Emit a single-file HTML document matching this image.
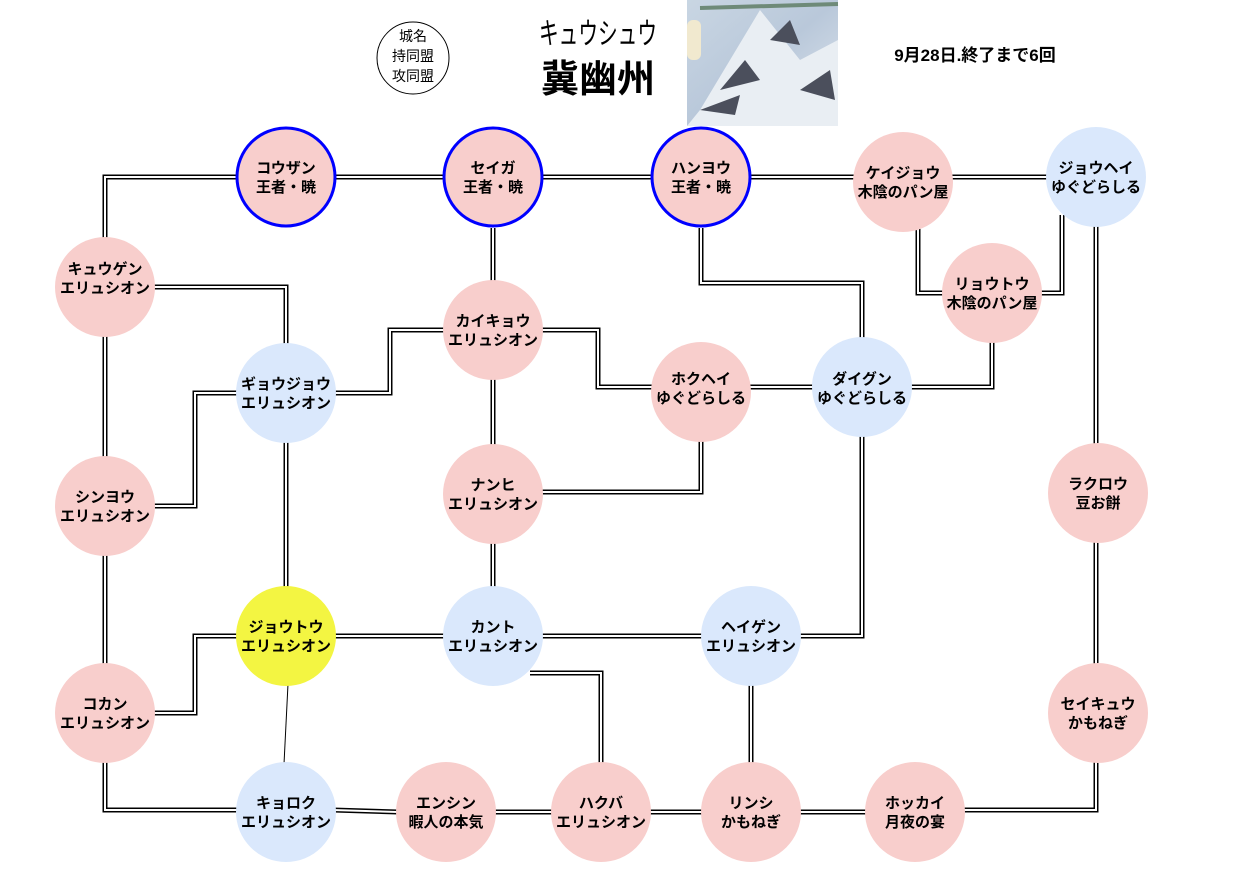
<!DOCTYPE html>
<html><head><meta charset="utf-8"><style>
html,body{margin:0;padding:0;background:#fff;}
svg{display:block;font-family:"Liberation Sans","Noto Sans CJK JP",sans-serif;}
</style></head><body>
<svg width="1244" height="890" viewBox="0 0 1244 890" xmlns="http://www.w3.org/2000/svg">
<defs>
<linearGradient id="img" x1="0" y1="0" x2="1" y2="1">
<stop offset="0" stop-color="#c9d6e3"/><stop offset="0.5" stop-color="#b9c8da"/><stop offset="1" stop-color="#dfe6ee"/>
</linearGradient>
</defs>
<g fill="none" stroke="#000" stroke-width="5">
<polyline points="105,240 105,177 1050,177"/>
<polyline points="493,228 493,285"/>
<polyline points="701,228 701,283 862,283 862,340"/>
<polyline points="918,225 918,293 945,293"/>
<polyline points="1038,293 1062,293 1062,215"/>
<polyline points="1096,225 1096,445"/>
<polyline points="150,287 286,287 286,345"/>
<polyline points="105,335 105,460"/>
<polyline points="333,393 390,393 390,330 445,330"/>
<polyline points="540,330 598,330 598,387 655,387"/>
<polyline points="748,387 815,387"/>
<polyline points="910,387 992,387 992,340"/>
<polyline points="493,378 493,445"/>
<polyline points="540,492 701,492 701,438"/>
<polyline points="150,506 195,506 195,393 238,393"/>
<polyline points="286,440 286,588"/>
<polyline points="105,553 105,665"/>
<polyline points="493,543 493,588"/>
<polyline points="333,636 705,636"/>
<polyline points="798,636 862,636 862,435"/>
<polyline points="238,636 195,636 195,713 150,713"/>
<polyline points="105,760 105,810 238,810"/>
<polyline points="333,810 398,812 866,812"/>
<polyline points="530,673 601,673 601,765"/>
<polyline points="751,685 751,765"/>
<polyline points="1096,540 1096,665"/>
<polyline points="962,810 1096,810 1096,762"/>
</g>
<g fill="none" stroke="#fff" stroke-width="2">
<polyline points="105,240 105,177 1050,177"/>
<polyline points="493,228 493,285"/>
<polyline points="701,228 701,283 862,283 862,340"/>
<polyline points="918,225 918,293 945,293"/>
<polyline points="1038,293 1062,293 1062,215"/>
<polyline points="1096,225 1096,445"/>
<polyline points="150,287 286,287 286,345"/>
<polyline points="105,335 105,460"/>
<polyline points="333,393 390,393 390,330 445,330"/>
<polyline points="540,330 598,330 598,387 655,387"/>
<polyline points="748,387 815,387"/>
<polyline points="910,387 992,387 992,340"/>
<polyline points="493,378 493,445"/>
<polyline points="540,492 701,492 701,438"/>
<polyline points="150,506 195,506 195,393 238,393"/>
<polyline points="286,440 286,588"/>
<polyline points="105,553 105,665"/>
<polyline points="493,543 493,588"/>
<polyline points="333,636 705,636"/>
<polyline points="798,636 862,636 862,435"/>
<polyline points="238,636 195,636 195,713 150,713"/>
<polyline points="105,760 105,810 238,810"/>
<polyline points="333,810 398,812 866,812"/>
<polyline points="530,673 601,673 601,765"/>
<polyline points="751,685 751,765"/>
<polyline points="1096,540 1096,665"/>
<polyline points="962,810 1096,810 1096,762"/>
</g>
<line x1="288" y1="684" x2="284" y2="764" stroke="#000" stroke-width="1"/>

<circle cx="413" cy="58" r="36" fill="#fff" stroke="#000" stroke-width="1"/>
<g font-size="14" text-anchor="middle" fill="#000">
<text x="413" y="41">城名</text><text x="413" y="61">持同盟</text><text x="413" y="81">攻同盟</text>
</g>
<text x="598" y="44" font-size="30" text-anchor="middle" textLength="118" lengthAdjust="spacingAndGlyphs">キュウシュウ</text>
<text x="598" y="92" font-size="38" font-weight="bold" text-anchor="middle">冀幽州</text>
<rect x="687" y="0" width="151" height="126" fill="url(#img)"/>
<path d="M700 110 L760 10 L800 60 L838 40 L838 126 L687 126Z" fill="#e9eef3"/>
<path d="M720 90 L745 60 L760 80Z M770 40 L790 20 L800 45Z M800 90 L830 70 L835 100Z M700 110 L740 95 L735 115Z" fill="#4b4f5c"/>
<rect x="687" y="20" width="14" height="40" rx="6" fill="#f1e9cf"/>
<path d="M700 8 L838 4" stroke="#6e8a78" stroke-width="4"/>
<text x="975" y="61" font-size="17" font-weight="bold" text-anchor="middle">9月28日.終了まで6回</text>

<g font-size="15" font-weight="bold" text-anchor="middle" fill="#000">
<circle cx="286" cy="177" r="49" fill="#f8cecc" stroke="#0000ff" stroke-width="3"/><text x="286" y="173">コウザン</text><text x="286" y="192">王者・暁</text>
<circle cx="493" cy="177" r="49" fill="#f8cecc" stroke="#0000ff" stroke-width="3"/><text x="493" y="173">セイガ</text><text x="493" y="192">王者・暁</text>
<circle cx="701" cy="177" r="49" fill="#f8cecc" stroke="#0000ff" stroke-width="3"/><text x="701" y="173">ハンヨウ</text><text x="701" y="192">王者・暁</text>
<circle cx="903" cy="182" r="50" fill="#f8cecc"/><text x="903" y="178">ケイジョウ</text><text x="903" y="197">木陰のパン屋</text>
<circle cx="1096" cy="177" r="50" fill="#dae8fc"/><text x="1096" y="173">ジョウヘイ</text><text x="1096" y="192">ゆぐどらしる</text>
<circle cx="105" cy="287" r="50" fill="#f8cecc"/><text x="105" y="274">キュウゲン</text><text x="105" y="293">エリュシオン</text>
<circle cx="992" cy="293" r="50" fill="#f8cecc"/><text x="992" y="289">リョウトウ</text><text x="992" y="308">木陰のパン屋</text>
<circle cx="493" cy="330" r="50" fill="#f8cecc"/><text x="493" y="326">カイキョウ</text><text x="493" y="345">エリュシオン</text>
<circle cx="286" cy="393" r="50" fill="#dae8fc"/><text x="286" y="389">ギョウジョウ</text><text x="286" y="408">エリュシオン</text>
<circle cx="701" cy="392" r="50" fill="#f8cecc"/><text x="701" y="384">ホクヘイ</text><text x="701" y="403">ゆぐどらしる</text>
<circle cx="862" cy="387" r="50" fill="#dae8fc"/><text x="862" y="384">ダイグン</text><text x="862" y="403">ゆぐどらしる</text>
<circle cx="493" cy="494" r="50" fill="#f8cecc"/><text x="493" y="490">ナンヒ</text><text x="493" y="509">エリュシオン</text>
<circle cx="105" cy="506" r="50" fill="#f8cecc"/><text x="105" y="502">シンヨウ</text><text x="105" y="521">エリュシオン</text>
<circle cx="1098" cy="493" r="50" fill="#f8cecc"/><text x="1098" y="489">ラクロウ</text><text x="1098" y="508">豆お餅</text>
<circle cx="286" cy="636" r="50" fill="#f3f542"/><text x="286" y="632">ジョウトウ</text><text x="286" y="651">エリュシオン</text>
<circle cx="493" cy="636" r="50" fill="#dae8fc"/><text x="493" y="632">カント</text><text x="493" y="651">エリュシオン</text>
<circle cx="751" cy="636" r="50" fill="#dae8fc"/><text x="751" y="632">ヘイゲン</text><text x="751" y="651">エリュシオン</text>
<circle cx="105" cy="713" r="50" fill="#f8cecc"/><text x="105" y="709">コカン</text><text x="105" y="728">エリュシオン</text>
<circle cx="1098" cy="713" r="50" fill="#f8cecc"/><text x="1098" y="709">セイキュウ</text><text x="1098" y="728">かもねぎ</text>
<circle cx="286" cy="812" r="50" fill="#dae8fc"/><text x="286" y="808">キョロク</text><text x="286" y="827">エリュシオン</text>
<circle cx="446" cy="812" r="50" fill="#f8cecc"/><text x="446" y="808">エンシン</text><text x="446" y="827">暇人の本気</text>
<circle cx="601" cy="812" r="50" fill="#f8cecc"/><text x="601" y="808">ハクバ</text><text x="601" y="827">エリュシオン</text>
<circle cx="751" cy="812" r="50" fill="#f8cecc"/><text x="751" y="808">リンシ</text><text x="751" y="827">かもねぎ</text>
<circle cx="915" cy="812" r="50" fill="#f8cecc"/><text x="915" y="808">ホッカイ</text><text x="915" y="827">月夜の宴</text>
</g>
</svg>
</body></html>
